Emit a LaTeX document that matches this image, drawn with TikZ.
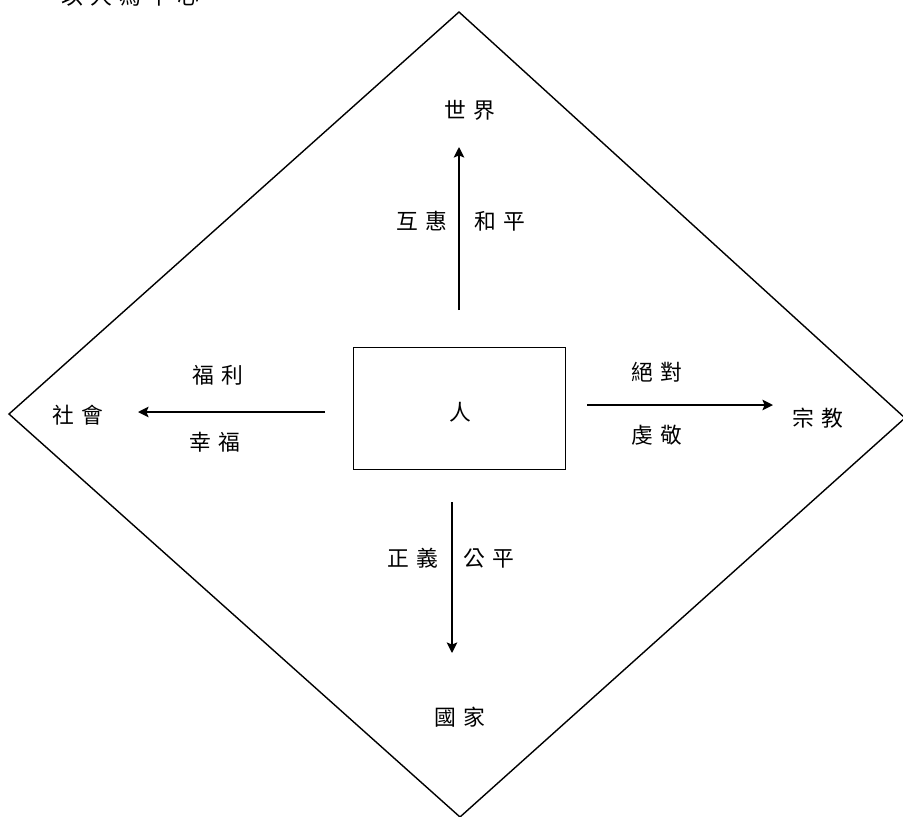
\documentclass[tikz,border=0pt]{standalone}
\usepackage{fontspec}
\newfontfamily\cjk{Noto Sans CJK TC}[LetterSpace=33]
\usepackage{xcolor}
\definecolor{LineBlack}{RGB}{0,0,0}
\usetikzlibrary{arrows.meta, positioning, calc}
\tikzset{
  % Text labels
  lbl/.style={font=\cjk\fontsize{15.5pt}{17pt}\selectfont, inner sep=0pt, text=LineBlack},
  % Outline of the diamond
  frame/.style={draw=LineBlack, line width=1pt, line join=miter},
  % Center box
  cbox/.style={rectangle, draw=LineBlack, line width=1.2pt,
    minimum width=5.3cm, minimum height=3.05cm, inner sep=0pt},
  % Arrows
  arr/.style={-{Stealth[length=7.5pt,width=7.5pt,inset=1.5pt]}, line width=1.2pt, LineBlack},
}

\begin{document}
\begin{tikzpicture}[x=0.025cm, y=-0.025cm]
  \useasboundingbox (0,0) rectangle (903,817);

  % Outer diamond
  \draw[frame] (459,12) -- (905,418) -- (460,817) -- (9,414) -- cycle;

  % Title (cut at the top edge)
  \node[lbl] (title) at (130,-4) {以人為中心};

  % Center
  \node[cbox] (person) at (459.5,408.5) {};
  \node[lbl] (personlbl) at (460,412) {人};

  % Four directions
  \node[lbl] (world) at (470,110) {世界};
  \node[lbl] (society) at (78,415) {社會};
  \node[lbl] (religion) at (818,418) {宗教};
  \node[lbl] (nation) at (460,717) {國家};

  % Arrow ends
  \coordinate (upA) at (459,310);
  \coordinate (upB) at (459,147);
  \coordinate (leftA) at (325,412);
  \coordinate (leftB) at (138,412);
  \coordinate (rightA) at (587,405);
  \coordinate (rightB) at (773,405);
  \coordinate (downA) at (452,502);
  \coordinate (downB) at (452,653);

  \draw[arr] (upA) -- (upB);
  \draw[arr] (leftA) -- (leftB);
  \draw[arr] (rightA) -- (rightB);
  \draw[arr] (downA) -- (downB);

  % Arrow labels
  \node[lbl] (mutual) at (422,221) {互惠};
  \node[lbl] (peace) at (500,221) {和平};
  \node[lbl] (welfare) at (218,375) {福利};
  \node[lbl] (happy) at (215,442) {幸福};
  \node[lbl] (absolute) at (657,372) {絕對};
  \node[lbl] (devout) at (657,435) {虔敬};
  \node[lbl] (justice) at (413,558) {正義};
  \node[lbl] (fair) at (489,558) {公平};
\end{tikzpicture}
\end{document}
